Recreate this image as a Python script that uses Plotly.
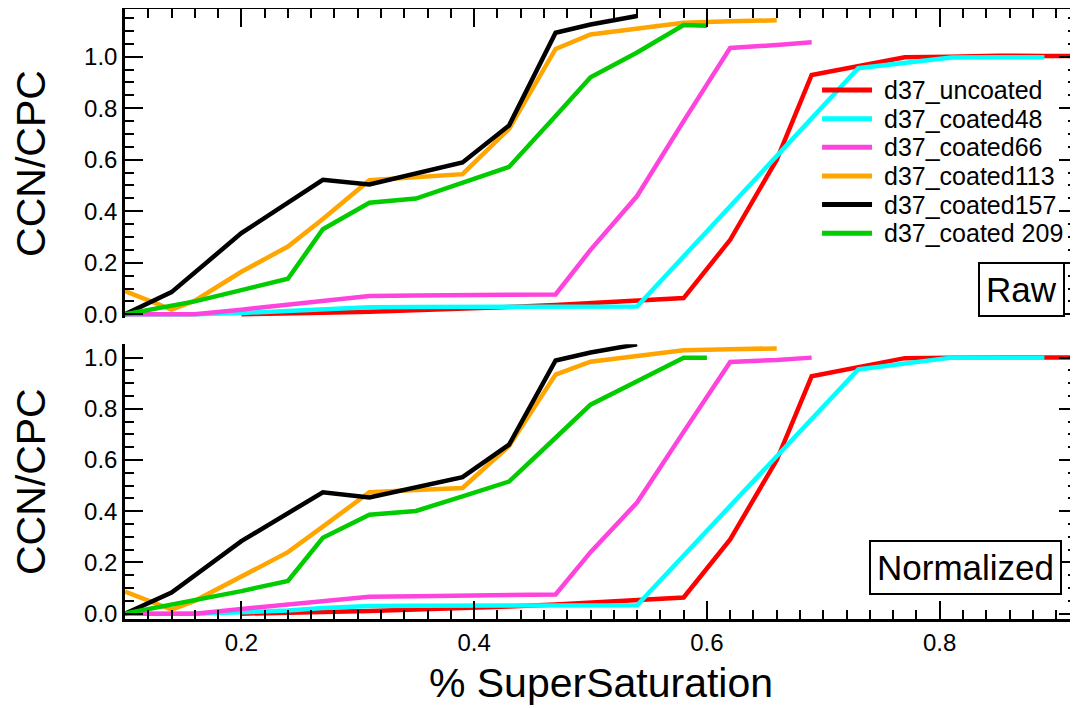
import plotly.graph_objects as go

# ---------------- data ----------------
series_names = ["d37_uncoated", "d37_coated48", "d37_coated66",
                "d37_coated113", "d37_coated157", "d37_coated 209"]
series_colors = ["#FF0000", "#00FFFF", "#FF44DD", "#FFA500", "#000000", "#00CC00"]

x_uncoated = [0.2, 0.24, 0.27, 0.31, 0.35, 0.39, 0.43, 0.47, 0.5, 0.54, 0.58, 0.62, 0.66, 0.69,
              0.73, 0.77, 0.81, 0.85, 0.89, 0.92]
raw_uncoated = [0.0, 0.002, 0.006, 0.01, 0.015, 0.02, 0.028, 0.036, 0.043, 0.053, 0.063, 0.289,
                0.6, 0.929, 0.962, 0.998, 1.0, 1.004, 1.003, 1.003]
norm_uncoated = [0.0, 0.002, 0.006, 0.01, 0.015, 0.02, 0.028, 0.036, 0.043, 0.053, 0.063, 0.29,
                 0.6, 0.927, 0.963, 0.998, 1.0, 1.002, 1.001, 1.0]

x_coated48 = [0.1, 0.14, 0.16, 0.2, 0.24, 0.27, 0.31, 0.35, 0.39, 0.43, 0.47, 0.5, 0.54,
              0.73, 0.77, 0.81, 0.85, 0.89]
raw_coated48 = [0.0, 0.0, 0.0, 0.005, 0.012, 0.02, 0.027, 0.028, 0.029, 0.03, 0.03, 0.03, 0.03,
                0.955, 0.975, 0.997, 0.998, 0.998]
norm_coated48 = [0.0, 0.0, 0.0, 0.005, 0.012, 0.022, 0.03, 0.031, 0.032, 0.033, 0.033, 0.033, 0.033,
                 0.954, 0.975, 1.0, 1.0, 1.0]

x_coated66 = [0.1, 0.14, 0.16, 0.2, 0.24, 0.27, 0.31, 0.35, 0.39, 0.43, 0.47, 0.5, 0.54, 0.58,
              0.62, 0.66, 0.69]
raw_coated66 = [0.0, 0.0, 0.0, 0.018, 0.036, 0.05, 0.071, 0.073, 0.074, 0.075, 0.077, 0.25, 0.459,
                0.75, 1.034, 1.045, 1.056]
norm_coated66 = [0.0, 0.0, 0.0, 0.018, 0.034, 0.048, 0.066, 0.068, 0.07, 0.072, 0.075, 0.24, 0.434,
                 0.71, 0.983, 0.991, 1.0]

x_coated113 = [0.1, 0.14, 0.16, 0.2, 0.24, 0.27, 0.31, 0.35, 0.39, 0.43, 0.47, 0.5, 0.54, 0.58,
               0.62, 0.66]
raw_coated113 = [0.09, 0.018, 0.053, 0.165, 0.263, 0.37, 0.52, 0.532, 0.544, 0.72, 1.03, 1.086,
                 1.11, 1.132, 1.137, 1.141]
norm_coated113 = [0.086, 0.016, 0.05, 0.145, 0.24, 0.34, 0.474, 0.483, 0.491, 0.655, 0.934, 0.984,
                  1.007, 1.029, 1.033, 1.036]

x_coated157 = [0.1, 0.14, 0.2, 0.24, 0.27, 0.31, 0.35, 0.39, 0.43, 0.47, 0.5, 0.54]
raw_coated157 = [0.0, 0.086, 0.315, 0.433, 0.522, 0.504, 0.547, 0.589, 0.733, 1.093, 1.125, 1.158]
norm_coated157 = [0.0, 0.082, 0.283, 0.395, 0.474, 0.454, 0.494, 0.533, 0.66, 0.989, 1.02, 1.052]

x_coated209 = [0.1, 0.14, 0.16, 0.2, 0.24, 0.27, 0.31, 0.35, 0.39, 0.43, 0.47, 0.5, 0.54, 0.58, 0.6]
raw_coated209 = [0.0, 0.034, 0.05, 0.094, 0.138, 0.33, 0.433, 0.449, 0.51, 0.572, 0.77, 0.92,
                 1.016, 1.123, 1.12]
norm_coated209 = [0.0, 0.036, 0.05, 0.088, 0.128, 0.296, 0.386, 0.401, 0.458, 0.516, 0.687, 0.816,
                  0.908, 1.0, 1.0]

x_tick_values = [0.2, 0.4, 0.6, 0.8]
y_tick_values = [0.0, 0.2, 0.4, 0.6, 0.8, 1.0]

series_x = [x_uncoated, x_coated48, x_coated66, x_coated113, x_coated157, x_coated209]
series_raw = [raw_uncoated, raw_coated48, raw_coated66, raw_coated113, raw_coated157, raw_coated209]
series_norm = [norm_uncoated, norm_coated48, norm_coated66, norm_coated113, norm_coated157,
               norm_coated209]

# ---------------- figure ----------------
FONT = "Liberation Sans, Arial, Helvetica, sans-serif"
LW = 4.5

fig = go.Figure()
for name, color, xs, raw, norm in zip(series_names, series_colors, series_x, series_raw, series_norm):
    fig.add_trace(go.Scatter(x=xs, y=raw, mode="lines", name=name, xaxis="x2", yaxis="y2",
                             line=dict(color=color, width=LW), showlegend=False))
    fig.add_trace(go.Scatter(x=xs, y=norm, mode="lines", name=name, xaxis="x", yaxis="y",
                             line=dict(color=color, width=LW), showlegend=False))

common_axis = dict(showline=True, linecolor="black", linewidth=2.5, ticks="inside",
                   tickwidth=2, tickcolor="black", ticklen=18, showgrid=False, zeroline=False,
                   automargin=False)

x_common = dict(common_axis, range=[0.1, 0.918], tickvals=x_tick_values, tickformat=".1f",
                minor=dict(dtick=0.02, tick0=0, ticks="inside", ticklen=9, tickwidth=2,
                           tickcolor="black", showgrid=False))
y_common = dict(common_axis, tickvals=y_tick_values, tickformat=".1f", mirror="ticks",
                minor=dict(dtick=0.05, tick0=0, ticks="inside", ticklen=9, tickwidth=2,
                           tickcolor="black", showgrid=False),
                tickfont=dict(size=24, color="black", family=FONT), ticklabelstandoff=0,
                title=dict(text="CCN/CPC", font=dict(size=41, color="black", family=FONT),
                           standoff=31))

# the page adds an 8 px body margin, so the figure is 8 px smaller and shifted accordingly
fig.update_layout(
    width=1070, height=700,
    margin=dict(l=117, r=1, t=1, b=89),
    paper_bgcolor="white", plot_bgcolor="white",
    font=dict(family=FONT, color="black"),
    showlegend=False,
    xaxis=dict(x_common, anchor="y", domain=[0, 1], side="bottom",
               tickfont=dict(size=24, color="black", family=FONT), ticklabelstandoff=0,
               title=dict(text="% SuperSaturation", font=dict(size=41, color="black", family=FONT),
                          standoff=14)),
    xaxis2=dict(x_common, anchor="y2", matches="x", side="top", showticklabels=False),
    yaxis=dict(y_common, anchor="x", domain=[0, 0.4503], range=[-0.021, 1.052]),
    yaxis2=dict(y_common, anchor="x2", domain=[0.4934, 1], range=[-0.0145, 1.185]),
)

# panel labels
fig.add_annotation(text="Raw", xref="paper", yref="paper", x=0.987, y=0.495,
                   xanchor="right", yanchor="bottom", showarrow=False,
                   font=dict(size=35, color="black", family=FONT),
                   bordercolor="black", borderwidth=2, borderpad=6, bgcolor="white")
fig.add_annotation(text="Normalized", xref="paper", yref="paper", x=0.984, y=0.039,
                   xanchor="right", yanchor="bottom", showarrow=False,
                   font=dict(size=35, color="black", family=FONT),
                   bordercolor="black", borderwidth=2, borderpad=6, bgcolor="white")

# legend (drawn as line samples + labels in the top panel)
leg_x0, leg_x1, leg_tx = 0.7322, 0.7847, 0.7952
leg_y0, leg_dy = 0.8671, 0.04694
for i, (name, color) in enumerate(zip(series_names, series_colors)):
    yy = leg_y0 - i * leg_dy
    fig.add_shape(type="line", xref="paper", yref="paper", x0=leg_x0, x1=leg_x1, y0=yy, y1=yy,
                  line=dict(color=color, width=5))
    fig.add_annotation(text=name, xref="paper", yref="paper", x=leg_tx, y=yy,
                       xanchor="left", yanchor="middle", showarrow=False,
                       font=dict(size=25, color="black", family=FONT))

fig.write_html("out.html")
